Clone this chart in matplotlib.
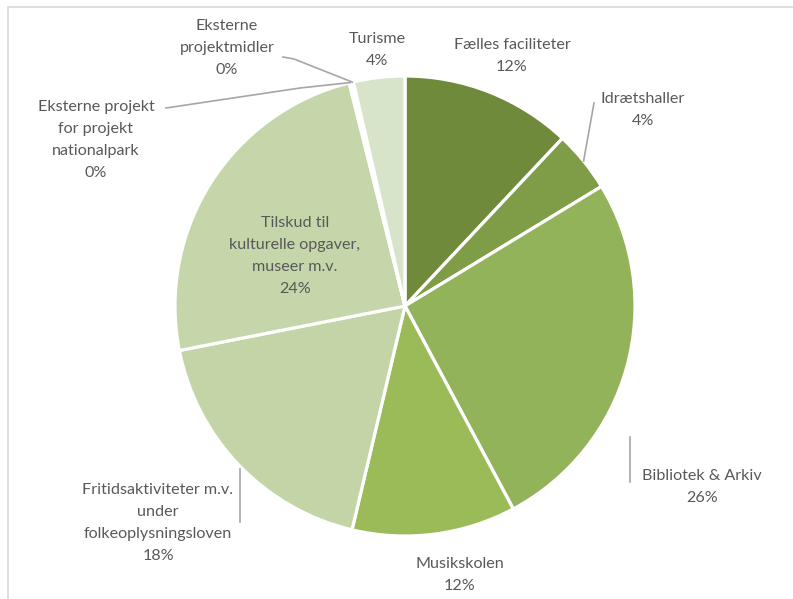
import matplotlib.pyplot as plt
import numpy as np

# data (shares in percent)
labels = ["Fælles faciliteter", "Idrætshaller", "Bibliotek & Arkiv", "Musikskolen",
          "Fritidsaktiviteter m.v.\nunder\nfolkeoplysningsloven",
          "Tilskud til\nkulturelle opgaver,\nmuseer m.v.",
          "Eksterne projekt\nfor projekt\nnationalpark",
          "Eksterne\nprojektmidler", "Turisme"]
shares = [12.0, 4.3, 25.9, 11.5, 18.2, 24.2, 0.15, 0.15, 3.6]
colors = ["#708A3C", "#7E9D46", "#93B35A", "#9BBB59", "#C3D4A6",
          "#C5D6AA", "#C8D8AE", "#CFDDBA", "#D8E4CA"]

W, H = 793, 599
TXT = "#595959"

fig = plt.figure(figsize=(W / 100, H / 100), dpi=100)
ax = fig.add_axes([0, 0, 1, 1])

def Y(y):
    # pixel row (from top) -> axis y
    return H - y

cx, cy, r = 405, Y(306), 230
wedges, _ = ax.pie(shares, colors=colors, startangle=90, counterclock=False,
                   center=(cx, cy), radius=r, frame=True,
                   wedgeprops=dict(edgecolor="white", linewidth=2.3))
ax.set_xlim(0, W)
ax.set_ylim(0, H)
ax.set_aspect("equal")
ax.axis("off")

# frame of the chart area (cut off right / bottom)
fig.add_artist(plt.Rectangle((8 / W, -0.1), 1.2, (H - 7) / H + 0.1,
                             transform=fig.transFigure, fill=False,
                             edgecolor="#D9D9D9", linewidth=1.2))

# label positions (pixel centre of the text block)
label_pos = [(512, 56), (643, 110), (702, 487), (460, 575), (158, 523),
             (295, 256), (96, 140), (227, 48), (377, 50)]

font = dict(family=["Lato", "DejaVu Sans"], fontsize=11.6, color=TXT,
            ha="center", va="center", linespacing=1.75)
for lab, val, (x, y) in zip(labels, shares, label_pos):
    ax.text(x, Y(y), f"{lab}\n{round(val):.0f}%", **font)

def edge_point(i):
    w = wedges[i]
    a = np.deg2rad((w.theta1 + w.theta2) / 2)
    return cx + r * np.cos(a), cy + r * np.sin(a)

line = dict(color="#A6A6A6", linewidth=1.2)
# Idrætshaller
ex, ey = edge_point(1)
ax.plot([594, ex], [Y(103), ey], **line)
# Bibliotek & Arkiv
ax.plot([630, 630], [Y(437), Y(482)], **line)
# Fritidsaktiviteter
ax.plot([240, 240], [Y(469), Y(522)], **line)
# Eksterne projekt for projekt nationalpark
ex, ey = edge_point(6)
ax.plot([166, 300, ex], [Y(108), Y(88), ey], **line)
# Eksterne projektmidler
ex, ey = edge_point(7)
ax.plot([283, 294, ex], [Y(57), Y(59), ey], **line)

fig.savefig("out.png", dpi=100, facecolor="white")
